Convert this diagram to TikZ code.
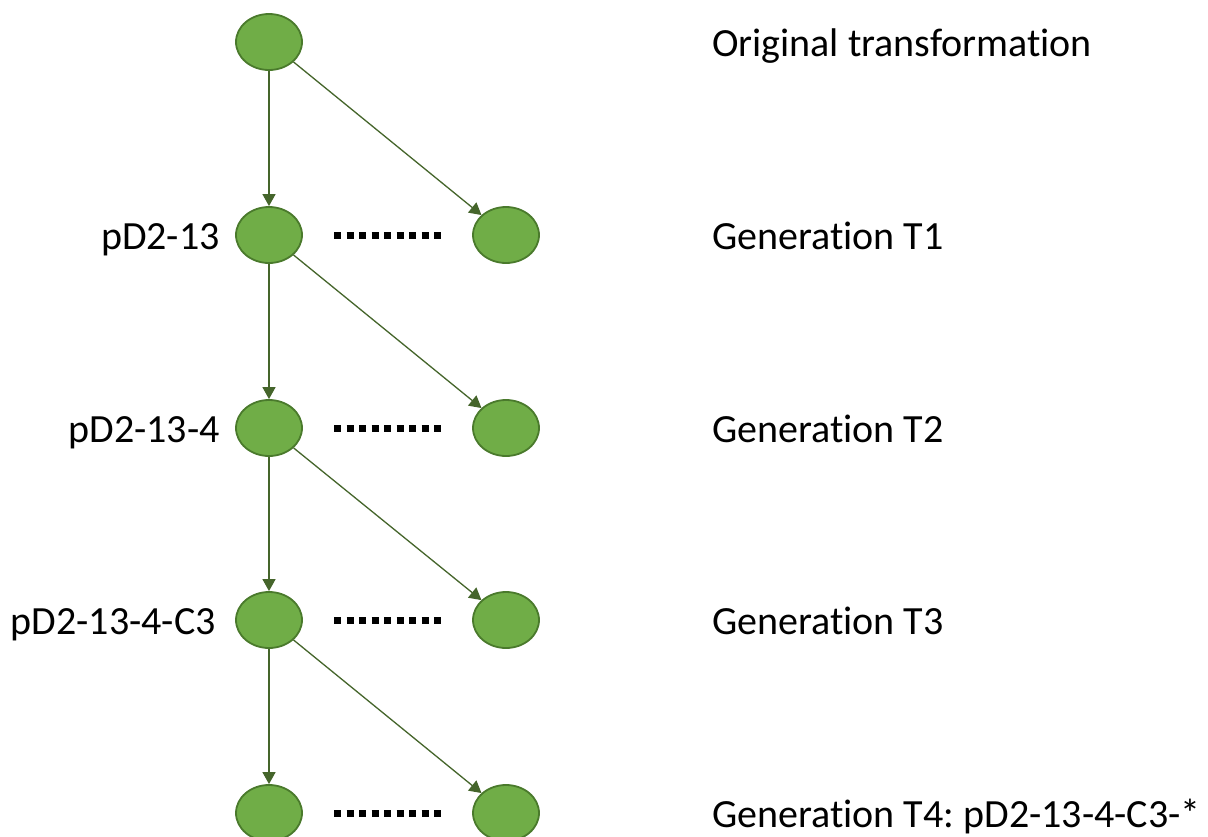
\documentclass[tikz,border=0pt]{standalone}
\usepackage{fontspec}
\setmainfont{Carlito}[Ligatures={NoCommon,NoRare}]
\usetikzlibrary{arrows.meta,shapes.geometric}
\definecolor{nodefill}{HTML}{70AD47}
\definecolor{nodeborder}{HTML}{4A7A2C}
\definecolor{arrowcol}{HTML}{45652B}
\tikzset{
  gnode/.style={ellipse, draw=nodeborder, fill=nodefill, line width=1.8pt, minimum width=66pt, minimum height=56pt, inner sep=0pt},
  conn/.style={draw=arrowcol, line width=1.3pt, -{Triangle[length=12pt,width=13pt]}},
  dots/.style={line width=7pt, dash pattern=on 7pt off 5.5pt, black},
  lbl/.style={font=\fontsize{40}{48}\selectfont, inner sep=0pt},
}
\frenchspacing
\begin{document}
\frenchspacing
\begin{tikzpicture}[x=1pt,y=-1pt]
\clip (0,0) rectangle (1208,836);
\fill[white] (0,0) rectangle (1208,836);
% left column
\node[gnode] (a0) at (269,42) {};
\node[gnode] (a1) at (269,235) {};
\node[gnode] (a2) at (269,428) {};
\node[gnode] (a3) at (269,620) {};
\node[gnode] (a4) at (269,813) {};
% right column
\node[gnode] (b1) at (506,235) {};
\node[gnode] (b2) at (506,428) {};
\node[gnode] (b3) at (506,620) {};
\node[gnode] (b4) at (506,813) {};
% connectors
\draw[conn] (a0) -- (a1);
\draw[conn] (a1) -- (a2);
\draw[conn] (a2) -- (a3);
\draw[conn] (a3) -- (a4);
\draw[conn] (a0) -- (b1);
\draw[conn] (a1) -- (b2);
\draw[conn] (a2) -- (b3);
\draw[conn] (a3) -- (b4);
% dotted
\coordinate (d1s) at (334,235); \coordinate (d1e) at (444,235);
\coordinate (d2s) at (334,428); \coordinate (d2e) at (444,428);
\coordinate (d3s) at (334,620); \coordinate (d3e) at (444,620);
\coordinate (d4s) at (334,813); \coordinate (d4e) at (444,813);
\draw[dots] (d1s) -- (d1e);
\draw[dots] (d2s) -- (d2e);
\draw[dots] (d3s) -- (d3e);
\draw[dots] (d4s) -- (d4e);
% left labels
\node[lbl, anchor=base east] (l1) at (220,249) {pD2-13};
\node[lbl, anchor=base east] (l2) at (220,442) {pD2-13-4};
\node[lbl, anchor=base east] (l3) at (216,634) {pD2-13-4-C3};
% right labels
\node[lbl, anchor=base west] (r0) at (712,56) {Original transformation};
\node[lbl, anchor=base west] (r1) at (712,249) {Generation T1};
\node[lbl, anchor=base west] (r2) at (712,442) {Generation T2};
\node[lbl, anchor=base west] (r3) at (712,634) {Generation T3};
\node[lbl, anchor=base west] (r4) at (712,827) {Generation T4: pD2-13-4-C3-*};
\end{tikzpicture}
\end{document}
